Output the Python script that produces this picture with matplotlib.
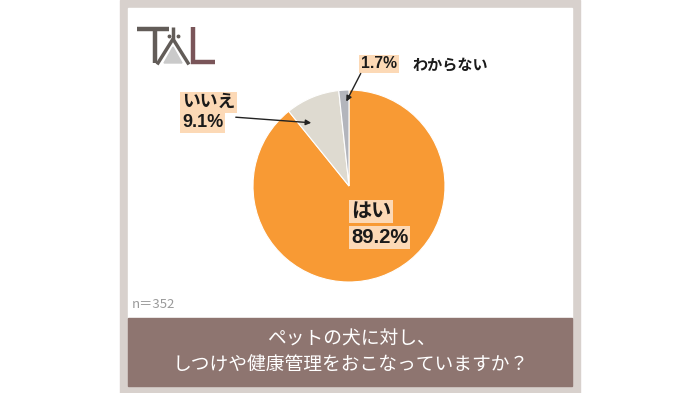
import matplotlib.pyplot as plt
from matplotlib.patches import Rectangle, Polygon

plt.rcParams['font.family'] = ['Noto Sans CJK JP', 'DejaVu Sans']

labels = ['はい', 'いいえ', 'わからない']
values = [89.2, 9.1, 1.7]
colors = ['#F89A34', '#DEDAD0', '#B3B5BC']
title_lines = ['ペットの犬に対し、', 'しつけや健康管理をおこなっていますか？']
n_text = 'n＝352'

H = 393
fig = plt.figure(figsize=(7, 3.93), dpi=100)
ax = fig.add_axes([0, 0, 1, 1])
ax.set_xlim(0, 700)
ax.set_ylim(0, H)
ax.axis('off')

def Y(y):
    return H - y

# panel frame
ax.add_patch(Rectangle((120, 0), 460, H, color='#D8D1CD', zorder=0))
ax.add_patch(Rectangle((128, Y(318)), 444, 310, color='white', zorder=1))
ax.add_patch(Rectangle((128, Y(386)), 444, 68, color='#8E7570', zorder=1))

# logo
dark = '#625C58'
ax.plot([137, 169], [Y(28.5), Y(28.5)], color=dark, lw=3.2, solid_capstyle='butt', zorder=3)
ax.plot([155, 155], [Y(28.5), Y(63)], color=dark, lw=3.2, solid_capstyle='butt', zorder=3)
ax.add_patch(Polygon([(164, Y(63)), (173, Y(47)), (182, Y(63))], color='#CACACA', zorder=2))
ax.plot([173, 173], [Y(27), Y(39)], color=dark, lw=2.5, solid_capstyle='butt', zorder=3)
ax.plot([158, 173, 188], [Y(63), Y(39), Y(63)], color=dark, lw=2.5, zorder=3)
ax.plot([169, 178], [Y(36), Y(36)], 'o', color=dark, ms=1.8, zorder=3)
ax.plot([193, 193, 215], [Y(27), Y(61.5), Y(61.5)], color='#7A5559', lw=3.2,
        solid_joinstyle='miter', solid_capstyle='butt', zorder=3)

# pie
ax.pie(values, colors=colors, startangle=90, counterclock=False,
       center=(349, Y(186)), radius=96, frame=False,
       wedgeprops=dict(linewidth=0.8, edgecolor='white'))
ax.set_xlim(0, 700)
ax.set_ylim(0, H)
ax.set_aspect('auto')

lab_font = ['Liberation Sans', 'Noto Sans CJK JP']
box = dict(boxstyle='square,pad=0.1', fc='#FCD9B6', ec='none')
tkw = dict(fontweight='bold', color='#1a1a1a', zorder=5, family=lab_font,
           ha='left', va='baseline')

# いいえ
ax.text(182, Y(107), labels[1], fontsize=12.8, bbox=box, **tkw)
ax.text(182, Y(127), f'{values[1]}%', fontsize=13, bbox=box, **tkw)
# はい
ax.text(351, Y(217), labels[0], fontsize=14.5, bbox=box, **tkw)
ax.text(351, Y(243), f'{values[0]}%', fontsize=14.5, bbox=box, **tkw)
# わからない
ax.text(361, Y(68.5), f'{values[2]}%', fontsize=11.3, bbox=box, **tkw)
ax.text(412, Y(69.5), labels[2], fontsize=10.9, **tkw)

ax.annotate('', xy=(314, Y(123)), xytext=(233, Y(117)),
            arrowprops=dict(arrowstyle='-|>', color='#222222', lw=1.0, mutation_scale=8), zorder=6)
ax.annotate('', xy=(345, Y(104)), xytext=(362, Y(71)),
            arrowprops=dict(arrowstyle='-|>', color='#222222', lw=1.0, mutation_scale=8), zorder=6)

ax.text(132, Y(304), n_text, ha='left', va='center', fontsize=9.5, color='#9A9A9A', zorder=5)

ax.text(351, Y(352), '\n'.join(title_lines), ha='center', va='center', fontsize=13.5,
        color='white', linespacing=1.3, zorder=5)

fig.savefig('out.png', dpi=100)
